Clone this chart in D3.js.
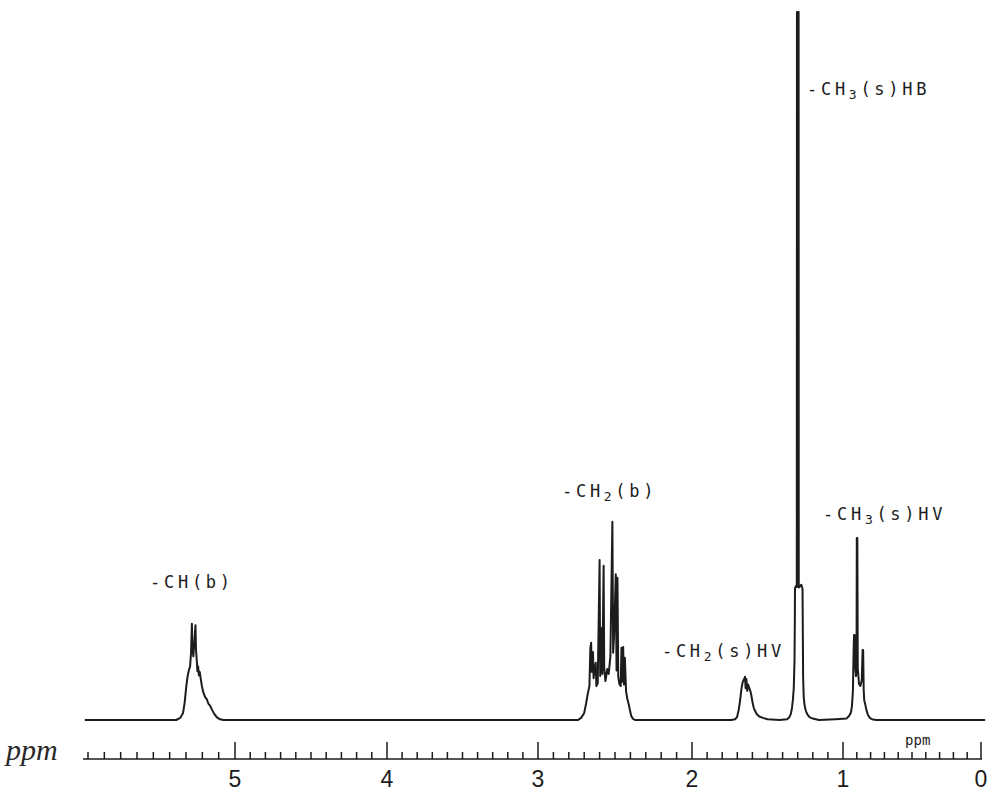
<!DOCTYPE html>
<html>
<head>
<meta charset="utf-8">
<script src="https://cdn.jsdelivr.net/npm/d3@7"></script>
<style>
  html, body { margin: 0; padding: 0; background: #ffffff; }
  svg { display: block; }
</style>
</head>
<body>
<svg id="chart" width="992" height="792"></svg>
<script>
// 1H NMR trace of a P(HB-co-HV) copolymer.
// Each pair is [chemical shift (ppm), relative intensity (%, tallest line = 100)].
const baselineStart = [[5.92, 0], [5.36, 0]];
const peakCHb = [
  [5.335, 0.3], [5.318, 1.0], [5.308, 2.5], [5.298, 4.8], [5.290, 6.2], [5.283, 7.0],
  [5.275, 7.6], [5.269, 9.5], [5.264, 13.6], [5.261, 10.2], [5.255, 9.0], [5.242, 13.4],
  [5.239, 10.0], [5.234, 8.4], [5.230, 6.9], [5.226, 7.6], [5.221, 6.3], [5.216, 6.8],
  [5.209, 5.7], [5.202, 4.7], [5.194, 3.9], [5.182, 3.2], [5.172, 2.9], [5.163, 2.3],
  [5.152, 2.0], [5.142, 1.5], [5.128, 0.9], [5.112, 0.4], [5.092, 0.1], [5.07, 0]
];
const peakCH2b = [
  [2.74, 0], [2.72, 0.3], [2.70, 1.0], [2.688, 2.3], [2.676, 3.8], [2.666, 4.8],
  [2.660, 10.2], [2.655, 10.9], [2.651, 6.8], [2.646, 7.9], [2.643, 9.6], [2.639, 5.9],
  [2.632, 7.2], [2.625, 8.1], [2.621, 4.8], [2.612, 5.2], [2.600, 22.6], [2.596, 6.2],
  [2.590, 13.0], [2.582, 6.5], [2.574, 21.8], [2.570, 7.4], [2.562, 5.5], [2.550, 7.2],
  [2.541, 6.5], [2.530, 9.0], [2.517, 28.0], [2.512, 9.5], [2.506, 12.0], [2.495, 20.6],
  [2.490, 7.0], [2.484, 20.1], [2.479, 6.2], [2.472, 5.1], [2.463, 4.8], [2.458, 10.2],
  [2.454, 5.4], [2.447, 10.3], [2.442, 5.0], [2.436, 8.8], [2.428, 4.0], [2.420, 3.0],
  [2.412, 2.3], [2.404, 1.5], [2.395, 0.6], [2.385, 0.2], [2.37, 0]
];
const peakCH2HV = [
  [1.74, 0], [1.715, 0.1], [1.702, 0.4], [1.690, 1.5], [1.680, 3.0], [1.672, 4.5],
  [1.665, 5.3], [1.657, 5.7], [1.652, 5.9], [1.649, 6.1], [1.645, 4.5], [1.640, 5.8],
  [1.634, 4.1], [1.628, 5.0], [1.622, 4.6], [1.615, 4.2], [1.608, 3.6], [1.600, 2.6],
  [1.592, 1.8], [1.583, 1.3], [1.570, 0.8], [1.555, 0.5], [1.530, 0.3], [1.50, 0.1], [1.42, 0]
];
const peakCH3HB = [
  [1.37, 0.1], [1.355, 0.4], [1.345, 0.9], [1.338, 1.7], [1.332, 2.8], [1.326, 4.5],
  [1.321, 8.5], [1.319, 14.0], [1.318, 18.6], [1.313, 18.9], [1.306, 18.8], [1.305, 100],
  [1.294, 100], [1.293, 18.7], [1.284, 18.9], [1.276, 19.1], [1.268, 18.5], [1.266, 12.0],
  [1.264, 6.0], [1.260, 3.2], [1.254, 2.0], [1.246, 1.3], [1.236, 0.8], [1.222, 0.4],
  [1.200, 0.2], [1.16, 0]
];
const peakCH3HV = [
  [1.05, 0.1], [0.975, 0.2], [0.955, 0.6], [0.942, 1.1], [0.935, 2.0], [0.928, 4.2],
  [0.923, 9.9], [0.920, 12.0], [0.916, 12.0], [0.912, 7.6], [0.906, 6.2], [0.902, 7.3],
  [0.900, 25.7], [0.896, 25.7], [0.893, 7.3], [0.884, 5.1], [0.874, 4.8], [0.864, 5.6],
  [0.858, 9.9], [0.854, 9.9], [0.850, 4.2], [0.846, 2.8], [0.840, 2.3], [0.830, 1.4],
  [0.819, 0.7], [0.805, 0.3], [0.790, 0.1], [0.76, 0]
];
const baselineEnd = [[-0.03, 0]];

// Axis: labelled integer shifts and 0.1 ppm minor divisions
const tickLabels = [5, 4, 3, 2, 1, 0];
const minorTicks = d3.range(0, 60).map(i => i / 10);

// Peak assignments: [main text, subscript, rest, ppm of text start, intensity of baseline]
const peakLabels = [
  ["-CH", "", "(b)", 5.52, 18.6],
  ["-CH", "2", "(b)", 2.844, 31.5],
  ["-CH", "2", "(s)HV", 2.195, 8.9],
  ["-CH", "3", "(s)HB", 1.238, 88.3],
  ["-CH", "3", "(s)HV", 1.132, 28.2]
];

const svg = d3.select("#chart");
const ink = "#1c1c1c";

// Chart paper shift scale (slightly uneven between the printed divisions)
const x = d3.scaleLinear()
  .domain([0, 1, 2, 3, 4, 5, 5.9])
  .range([981, 843, 692, 538, 387, 235, 88]);
const y = d3.scaleLinear().domain([0, 100]).range([720, 12]);

const trace = [].concat(baselineStart, peakCHb, peakCH2b, peakCH2HV, peakCH3HB, peakCH3HV, baselineEnd);

const line = d3.line().x(d => x(d[0])).y(d => y(d[1]));

svg.append("path")
  .datum(trace)
  .attr("d", line)
  .attr("fill", "none")
  .attr("stroke", ink)
  .attr("stroke-width", 2)
  .attr("stroke-linejoin", "round");

// Ruled ppm axis under the trace
const axisY = 759;
const axisG = svg.append("g").attr("transform", `translate(0,${axisY})`);
axisG.append("line")
  .attr("x1", 83).attr("x2", x(0) + 1)
  .attr("stroke", ink).attr("stroke-width", 1.6);
axisG.selectAll("line.tick")
  .data(minorTicks)
  .join("line")
  .attr("class", "tick")
  .attr("x1", d => x(d)).attr("x2", d => x(d))
  .attr("y1", 0)
  .attr("y2", d => Math.abs(d - Math.round(d)) < 1e-6 ? -17 : -7)
  .attr("stroke", ink).attr("stroke-width", 1.5);
axisG.selectAll("text.lab")
  .data(tickLabels)
  .join("text")
  .attr("class", "lab")
  .attr("x", d => x(d))
  .attr("y", 28)
  .attr("text-anchor", "middle")
  .attr("font-family", "Liberation Sans, Arial, sans-serif")
  .attr("font-size", 23)
  .attr("fill", ink)
  .text(d => d);

// Axis unit marks
svg.append("text")
  .attr("x", 6).attr("y", 760)
  .attr("font-family", "Liberation Serif, serif")
  .attr("font-style", "italic")
  .attr("font-size", 30)
  .attr("fill", "#2a2a2a")
  .text("ppm");
svg.append("text")
  .attr("x", x(0.55)).attr("y", 745)
  .attr("font-family", "DejaVu Sans Mono, monospace")
  .attr("font-size", 14)
  .attr("fill", ink)
  .text("ppm");

// Peak assignment labels
const labG = svg.append("g")
  .attr("font-family", "DejaVu Sans Mono, monospace")
  .attr("font-size", 17)
  .attr("letter-spacing", 3.7)
  .attr("fill", ink);
peakLabels.forEach(([main, sub, rest, ppm, inten]) => {
  const t = labG.append("text").attr("x", x(ppm)).attr("y", y(inten));
  t.append("tspan").text(main);
  if (sub) {
    t.append("tspan").attr("font-size", 13).attr("dy", 4).text(sub);
    t.append("tspan").attr("dy", -4).text(rest);
  } else {
    t.append("tspan").text(rest);
  }
});
</script>
</body>
</html>
